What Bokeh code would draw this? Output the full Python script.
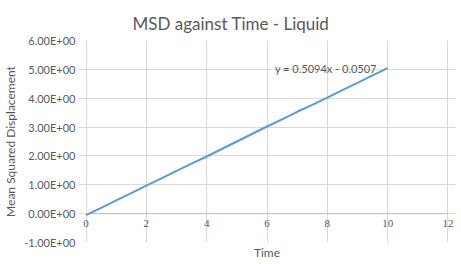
from bokeh.plotting import figure
from bokeh.models import FixedTicker, Label, LabelSet, ColumnDataSource, Range1d
from bokeh.embed import file_html
from bokeh.resources import INLINE

time = [0, 0.5, 1, 1.5, 2, 2.5, 3, 3.5, 4, 4.5, 5, 5.5, 6, 6.5, 7, 7.5, 8, 8.5, 9, 9.5, 10]
msd = [-0.05, 0.20, 0.46, 0.71, 0.97, 1.22, 1.48, 1.73, 1.98, 2.24, 2.50, 2.76, 3.02,
       3.27, 3.53, 3.77, 4.02, 4.28, 4.53, 4.79, 5.04]
x_ticks = [0, 2, 4, 6, 8, 10, 12]
x_tick_labels = ["0", "2", "4", "6", "8", "10", "12"]
y_ticks = [-1, 0, 1, 2, 3, 4, 5, 6]
y_tick_labels = ["-1.00E+00", "0.00E+00", "1.00E+00", "2.00E+00", "3.00E+00",
                 "4.00E+00", "5.00E+00", "6.00E+00"]
title = "MSD against Time - Liquid"
equation = "y = 0.5094x - 0.0507"

FONT = "Lato"
TXT = "#595959"
GRID = "#D9D9D9"
PAD = 0.25  # small room so the end tick labels are not clipped

p = figure(frame_width=377, frame_height=202, output_backend="svg", toolbar_location=None,
           x_range=Range1d(x_ticks[0] - PAD, x_ticks[-1] + PAD),
           y_range=Range1d(y_ticks[0], y_ticks[-1]),
           min_border_left=78, min_border_right=6, min_border_top=40, min_border_bottom=22)
p.outline_line_color = None
p.background_fill_color = "white"
p.border_fill_color = "white"

p.title.text = title
p.title.align = "left"
p.title.offset = 54
p.title.text_font = FONT
p.title.text_font_size = "17px"
p.title.text_font_style = "normal"
p.title.text_color = TXT
p.title.text_line_height = 0.2
p.title.standoff = 14

# y axis
p.yaxis.ticker = FixedTicker(ticks=y_ticks)
p.yaxis.major_label_overrides = {t: l for t, l in zip(y_ticks, y_tick_labels)}
p.yaxis.major_tick_line_color = None
p.yaxis.minor_tick_line_color = None
p.yaxis.major_tick_out = 0
p.yaxis.major_tick_in = 0
p.yaxis.minor_tick_out = 0
p.yaxis.axis_line_color = None
p.yaxis.major_label_standoff = 3
p.yaxis.major_label_text_font = FONT
p.yaxis.major_label_text_font_size = "11px"
p.yaxis.major_label_text_color = TXT
p.yaxis.axis_label = "Mean Squared Displacement"
p.yaxis.axis_label_text_font = FONT
p.yaxis.axis_label_text_font_size = "12px"
p.yaxis.axis_label_text_font_style = "normal"
p.yaxis.axis_label_text_color = TXT
p.yaxis.axis_label_standoff = 3

# x axis (tick labels drawn at y=0 like Excel)
p.xaxis.ticker = FixedTicker(ticks=[])
p.xaxis.axis_line_color = None
p.xaxis.major_tick_line_color = None
p.xaxis.minor_tick_line_color = None
p.xaxis.major_tick_out = 0
p.xaxis.major_tick_in = 0
p.xaxis.minor_tick_out = 0
p.xaxis.axis_label = "Time"
p.xaxis.axis_label_text_font = FONT
p.xaxis.axis_label_text_font_size = "12px"
p.xaxis.axis_label_text_font_style = "normal"
p.xaxis.axis_label_text_color = TXT
p.xaxis.axis_label_standoff = 2

p.xgrid.ticker = FixedTicker(ticks=x_ticks)
p.ygrid.ticker = FixedTicker(ticks=y_ticks)
p.xgrid.grid_line_color = GRID
p.ygrid.grid_line_color = GRID
p.ygrid.bounds = (x_ticks[0], x_ticks[-1])

# horizontal axis line at y = 0
p.line(x=[x_ticks[0], x_ticks[-1]], y=[0, 0], line_color="#BFBFBF", line_width=1)

lab_src = ColumnDataSource(dict(x=x_ticks, y=[0] * len(x_ticks), t=x_tick_labels))
p.add_layout(LabelSet(x="x", y="y", text="t", source=lab_src, text_align="center",
                      text_baseline="top", y_offset=-6, text_font=FONT,
                      text_font_size="11px", text_color=TXT))

p.line(time, msd, line_color="#5B9BD5", line_width=2)

p.add_layout(Label(x=7.95, y=5.03, text=equation, text_align="center", text_baseline="middle",
                   text_font=FONT, text_font_size="11px", text_color=TXT))

open("out.html", "w").write(file_html(p, INLINE))
